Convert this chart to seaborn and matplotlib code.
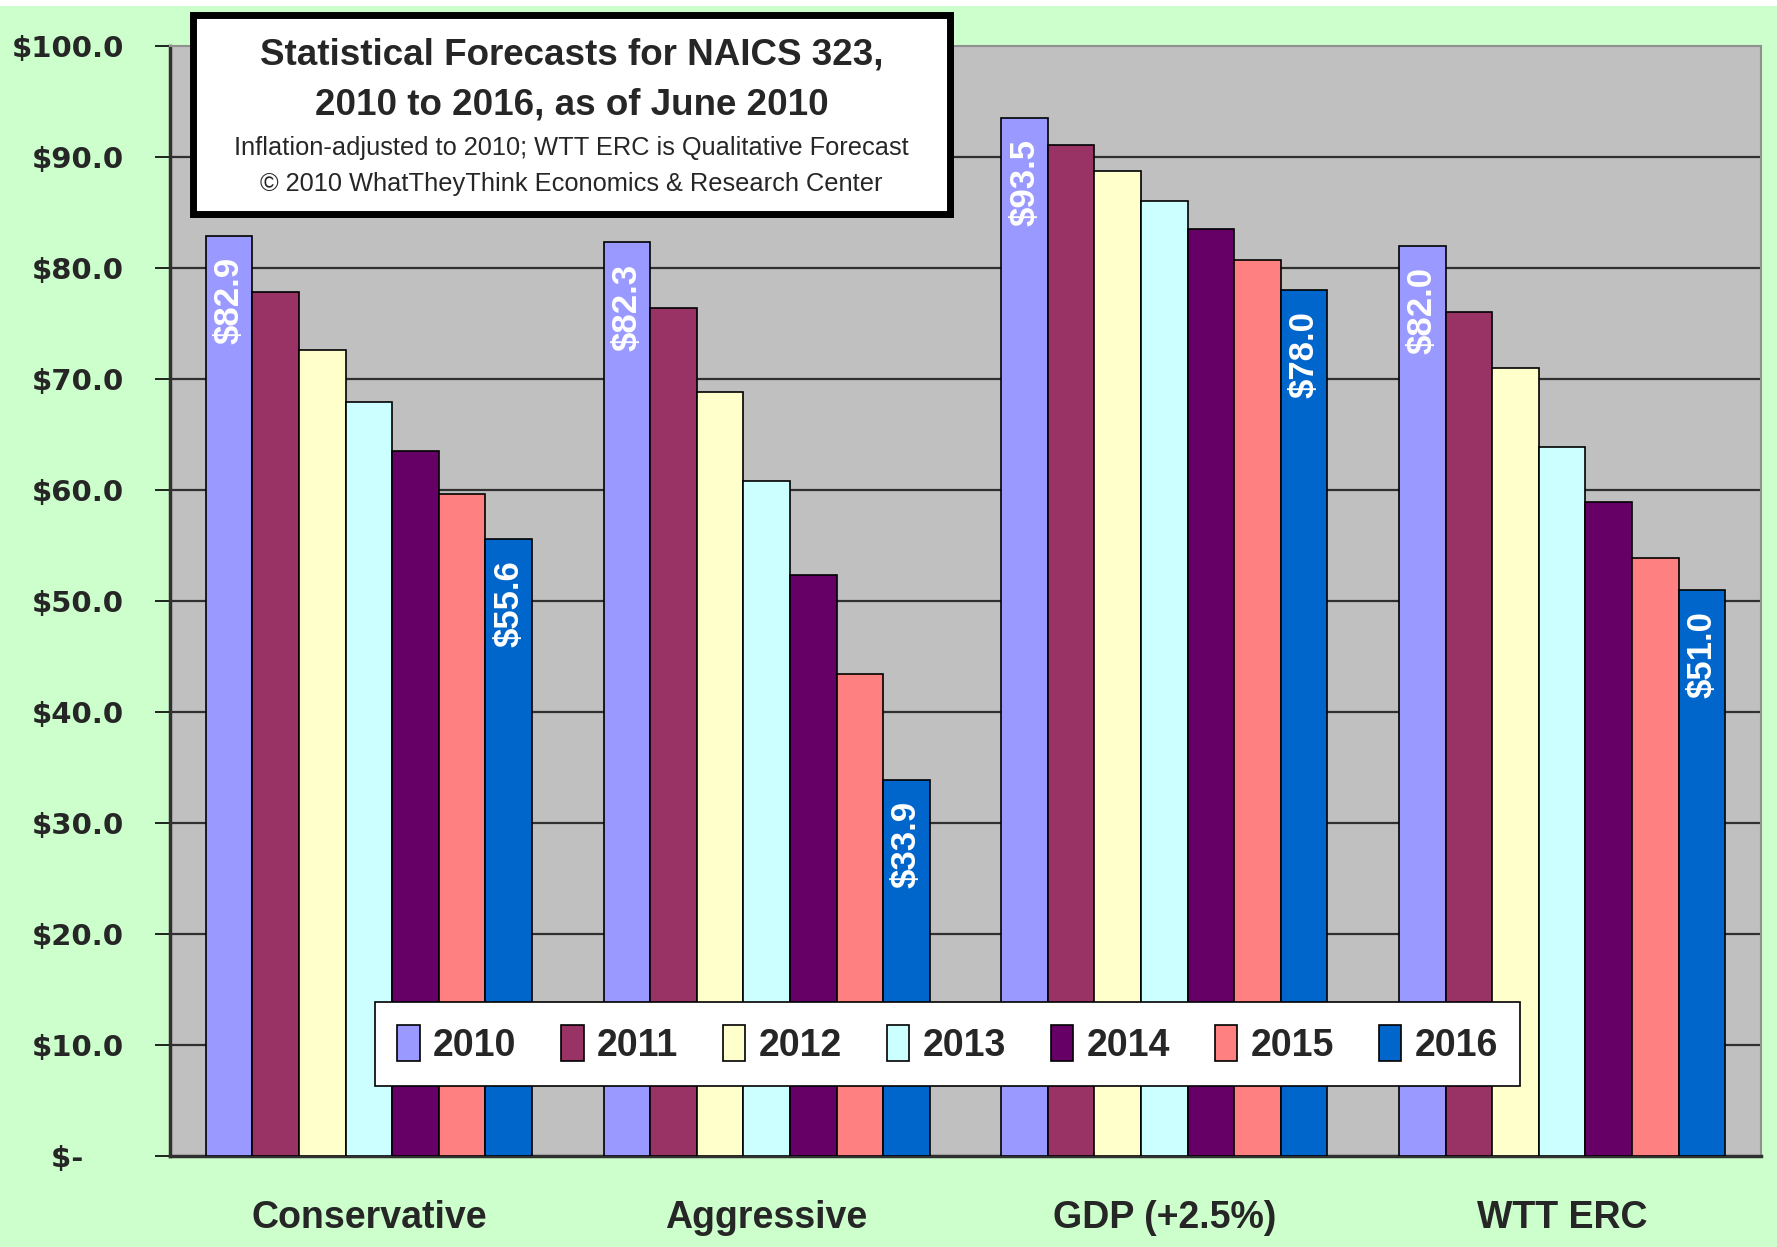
import matplotlib
matplotlib.use("Agg")
import matplotlib.pyplot as plt
import seaborn as sns
import pandas as pd
from matplotlib.patches import Rectangle
from matplotlib import font_manager

categories = ["Conservative", "Aggressive", "GDP (+2.5%)", "WTT ERC"]
years = ["2010", "2011", "2012", "2013", "2014", "2015", "2016"]
conservative = [82.9, 77.8, 72.6, 67.9, 63.5, 59.6, 55.6]
aggressive = [82.3, 76.4, 68.8, 60.8, 52.3, 43.4, 33.9]
gdp = [93.5, 91.1, 88.7, 86.0, 83.5, 80.7, 78.0]
wtt_erc = [82.0, 76.0, 71.0, 63.9, 58.9, 53.9, 51.0]
colors = ["#9999FF", "#993366", "#FFFFCC", "#CCFFFF", "#660066", "#FF8080", "#0066CC"]
yticks = [0, 10, 20, 30, 40, 50, 60, 70, 80, 90, 100]
ytick_labels = ["$-    ", "$10.0", "$20.0", "$30.0", "$40.0", "$50.0", "$60.0",
                "$70.0", "$80.0", "$90.0", "$100.0"]

rows = []
for cat, vals in zip(categories, [conservative, aggressive, gdp, wtt_erc]):
    for y, v in zip(years, vals):
        rows.append({"Scenario": cat, "Year": y, "Value": v})
df = pd.DataFrame(rows)

sns.set_theme(style="white")
avail = {f.name for f in font_manager.fontManager.ttflist}
narrow = "Liberation Sans Narrow" if "Liberation Sans Narrow" in avail else "Liberation Sans"
plt.rcParams["font.family"] = ["Liberation Sans", "DejaVu Sans"]

fig = plt.figure(figsize=(17.77, 12.47), dpi=100)
fig.patch.set_facecolor("#CCFFCC")
fig.patches.append(Rectangle((0, 1 - 6 / 1247), 1, 6 / 1247, transform=fig.transFigure,
                             facecolor="white", edgecolor="none", zorder=0))

ax = fig.add_axes([170 / 1777, 1 - 1156 / 1247, (1761 - 170) / 1777, (1156 - 46) / 1247])
ax.set_facecolor("#C0C0C0")

sns.barplot(data=df, x="Scenario", y="Value", hue="Year", palette=colors,
            width=0.82, gap=0, edgecolor="black", linewidth=1.2, ax=ax,
            legend=True, zorder=3, saturation=1)

ax.set_ylim(0, 100)
ax.set_xlim(-0.5, 3.5)
ax.set_yticks(yticks)
ax.set_yticklabels(ytick_labels, fontfamily="DejaVu Sans", fontweight="bold", fontsize=21)
for y in yticks[1:-1]:
    ax.axhline(y, color="#303030", linewidth=1.6, zorder=1)

ax.set_xticks([0, 1, 2, 3])
ax.set_xticklabels(categories, fontfamily=narrow, fontweight="bold", fontsize=27)
ax.tick_params(axis="x", length=0, pad=32)
ax.set_xticks([0.5, 1.5, 2.5, 3.5], minor=True)
ax.tick_params(axis="x", which="minor", length=12, width=1.2, color="black", direction="out")
ax.tick_params(axis="y", length=11, width=1.2, color="black", direction="out", pad=22,
               left=True)
ax.set_xlabel("")
ax.set_ylabel("")

for side in ["top", "right"]:
    ax.spines[side].set_color("#909090")
    ax.spines[side].set_linewidth(1.5)
ax.spines["left"].set_color("#303030")
ax.spines["left"].set_linewidth(2.5)
ax.spines["bottom"].set_color("#303030")
ax.spines["bottom"].set_linewidth(2.5)

# value labels on first and last years
for idx in [0, len(years) - 1]:
    cont = ax.containers[idx]
    for bar in cont:
        h = bar.get_height()
        ax.text(bar.get_x() + bar.get_width() / 2, h - 1.9, f"${h:.1f}",
                rotation=90, ha="center", va="top", color="white",
                fontsize=25, fontweight="bold", fontfamily=narrow, zorder=5)

leg = ax.legend(loc="lower center", bbox_to_anchor=((947.5 - 170) / 1591, (1156 - 1086) / 1110),
                borderaxespad=0,
                ncol=7, frameon=True, fancybox=False, framealpha=1,
                edgecolor="black", facecolor="white",
                prop={"family": narrow, "weight": "bold", "size": 27},
                handlelength=0.6, handleheight=1.1, handletextpad=0.35,
                columnspacing=1.2, borderpad=0.6)
leg.get_frame().set_linewidth(1.2)
leg.set_zorder(10)

# title box
x0, x1 = 193 / 1777, 950 / 1777
y0, y1 = 1 - 214 / 1247, 1 - 15 / 1247
fig.patches.append(Rectangle((x0 + 4 / 1777, y0 - 4 / 1247), x1 - x0, y1 - y0,
                             transform=fig.transFigure, facecolor="#606060",
                             edgecolor="none", zorder=20))
fig.patches.append(Rectangle((x0, y0), x1 - x0, y1 - y0, transform=fig.transFigure,
                             facecolor="white", edgecolor="black", linewidth=5, zorder=21))
cx = (x0 + x1) / 2
fig.text(cx, 1 - 55 / 1247, "Statistical Forecasts for NAICS 323,", ha="center", va="center",
         fontsize=26.5, fontweight="bold", fontfamily=narrow, zorder=22)
fig.text(cx, 1 - 105 / 1247, "2010 to 2016, as of June 2010", ha="center", va="center",
         fontsize=26.5, fontweight="bold", fontfamily=narrow, zorder=22)
fig.text(cx, 1 - 148 / 1247, "Inflation-adjusted to 2010; WTT ERC is Qualitative Forecast",
         ha="center", va="center", fontsize=18.3, fontfamily=narrow, zorder=22)
fig.text(cx, 1 - 184 / 1247, "\u00a9 2010 WhatTheyThink Economics & Research Center",
         ha="center", va="center", fontsize=18.3, fontfamily=narrow, zorder=22)

fig.savefig("out.png", dpi=100, facecolor=fig.get_facecolor())
